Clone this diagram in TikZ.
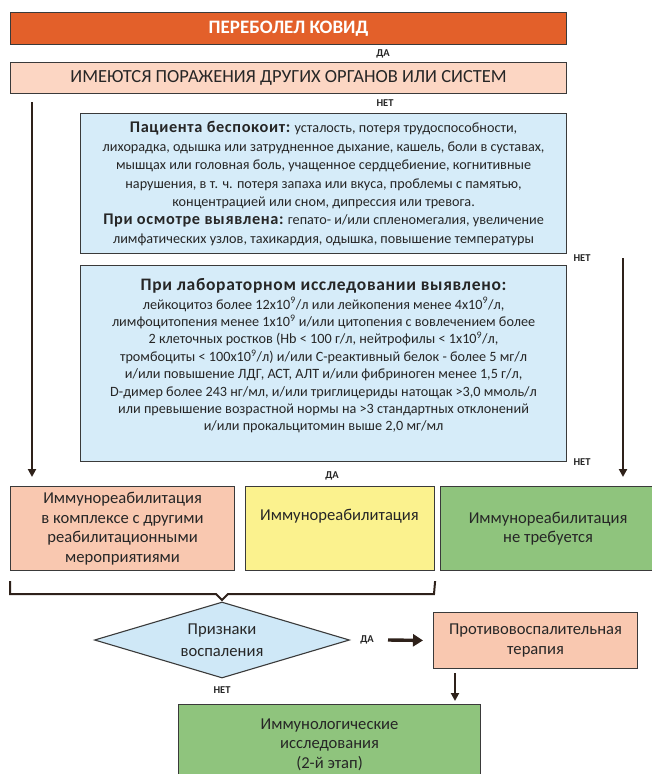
\documentclass[tikz,border=0pt]{standalone}
\usepackage{fontspec}
\setmainfont{Carlito}
\newfontfamily\hdfont[LetterSpace=4]{Carlito}
\usetikzlibrary{arrows.meta,shapes.geometric,calc}
\definecolor{orangeT}{HTML}{E3602A}
\definecolor{salmonL}{HTML}{FCD6C3}
\definecolor{salmonF}{HTML}{F9C8B0}
\definecolor{blueF}{HTML}{D6ECF9}
\definecolor{blueD}{HTML}{CFE8F7}
\definecolor{yellowF}{HTML}{FBF28E}
\definecolor{greenF}{HTML}{8FC47D}
\definecolor{bordc}{HTML}{3A3A3A}
\definecolor{arrc}{HTML}{2E211A}
\definecolor{txtc}{HTML}{262626}
\newcommand{\hd}[1]{{\hdfont\bfseries\fontsize{16.3}{18}\selectfont #1}}
\newcommand{\sq}{\textsuperscript{9}}
\begin{document}
\begin{tikzpicture}[x=1pt,y=-1pt,
  box/.style={draw=bordc, line width=1.1pt, inner sep=0pt, align=center, anchor=north west, text=txtc},
  body/.style={font=\fontsize{14.2}{18.4}\selectfont},
  labbody/.style={font=\fontsize{14.2}{17.4}\selectfont},
  mid/.style={font=\fontsize{16.6}{19.5}\selectfont},
  lbl/.style={font=\fontsize{10.5}{12}\selectfont\bfseries, text=txtc, inner sep=0pt},
  arr/.style={draw=arrc, line width=2.6pt, -{Triangle[length=8pt,width=8pt]}},
  arrH/.style={draw=arrc, line width=3.4pt, -{Triangle[length=10pt,width=12pt]}},
  brk/.style={draw=arrc, line width=2pt},
]
\useasboundingbox (0,0) rectangle (651,774);
\fill[white] (0,0) rectangle (651,774);

\node[box, fill=orangeT, minimum width=556, minimum height=32, text=white, font=\fontsize{19}{22}\selectfont\bfseries] (covid) at (10,12) {ПЕРЕБОЛЕЛ КОВИД};
\node[lbl] (da1) at (383,54) {ДА};
\node[box, fill=salmonL, minimum width=556, minimum height=31, font=\fontsize{18.5}{21}\selectfont] (organs) at (10,62) {ИМЕЮТСЯ ПОРАЖЕНИЯ ДРУГИХ ОРГАНОВ ИЛИ СИСТЕМ};
\node[lbl] (net1) at (385,103) {НЕТ};

\node[box, fill=blueF, minimum width=486, minimum height=140, body] (compl) at (80,113) {%
\hd{Пациента беспокоит:} усталость, потеря трудоспособности,\\
лихорадка, одышка или затрудненное дыхание, кашель, боли в суставах,\\
мышцах или головная боль, учащенное сердцебиение, когнитивные\\
нарушения, в т. ч. потеря запаха или вкуса, проблемы с памятью,\\
концентрацией или сном, дипрессия или тревога.\\
\hd{При осмотре выявлена:} гепато- и/или спленомегалия, увеличение\\
лимфатических узлов, тахикардия, одышка, повышение температуры};
\node[lbl] (net2) at (582,258) {НЕТ};

\node[box, fill=blueF, minimum width=486, minimum height=196, labbody] (lab) at (80,265) {%
\hd{\fontsize{17.5}{19}\selectfont При лабораторном исследовании выявлено:}\\[1pt]
лейкоцитоз более 12x10\sq/л или лейкопения менее 4x10\sq/л,\\
лимфоцитопения менее 1x10\sq{} и/или цитопения с вовлечением более\\
2 клеточных ростков (Hb < 100 г/л, нейтрофилы < 1x10\sq/л,\\
тромбоциты < 100x10\sq/л) и/или С-реактивный белок - более 5 мг/л\\
и/или повышение ЛДГ, АСТ, АЛТ и/или фибриноген менее 1,5 г/л,\\
D-димер более 243 нг/мл, и/или триглицериды натощак >3,0 ммоль/л\\
или превышение возрастной нормы на >3 стандартных отклонений\\
и/или прокальцитомин выше 2,0 мг/мл\\[0pt]\mbox{}};
\node[lbl] (net3) at (582,462) {НЕТ};
\node[lbl] (da2) at (332,476) {ДА};

\node[box, fill=salmonF, minimum width=224, minimum height=84, mid] (rehabfull) at (10,486) {Иммунореабилитация\\в комплексе с другими\\реабилитационными\\мероприятиями};
\node[box, fill=yellowF, minimum width=189, minimum height=84] (rehab) at (245,486) {};
\node[mid, text=txtc, inner sep=0pt] (rehabtxt) at (339.5,516) {Иммунореабилитация};
\node[box, fill=greenF, minimum width=215, minimum height=84, mid] (noneed) at (440,486) {Иммунореабилитация\\не требуется};

\node[diamond, draw=bordc, line width=1.1pt, fill=blueD, minimum width=255, minimum height=76, inner sep=0pt, aspect=3.4, align=center, text=txtc, mid] (infl) at (222,640) {Признаки\\[3pt]воспаления};
\node[lbl] (da3) at (367,640) {ДА};
\node[box, fill=salmonF, minimum width=204, minimum height=56, mid] (anti) at (433,612) {Противовоспалительная\\терапия};
\node[lbl] (net4) at (222,690) {НЕТ};
\node[box, fill=greenF, minimum width=302, minimum height=80, mid] (immun) at (178,704) {Иммунологические\\исследования\\(2-й этап)};

\coordinate (lstart) at (32,102);
\draw[arr, shorten >=9pt] (lstart) -- (lstart |- rehabfull.north);
\coordinate (rstart) at (623,258);
\draw[arr, shorten >=9pt] (rstart) -- (rstart |- noneed.north);
\coordinate (dastart) at (388,640);
\draw[arrH, shorten >=10pt] (dastart) -- (anti.west);
\coordinate (dx) at (455,0);
\draw[arr, shorten <=4pt, shorten >=3pt] (dx |- anti.south) -- (dx |- immun.north);

\draw[brk] ($(rehabfull.south west)+(0,10)$) -- (10,594) -- (216,594) -- (222,600) -- (228,594) -- (434,594) -- ($(rehab.south east)+(0,10)$);
\end{tikzpicture}
\end{document}
